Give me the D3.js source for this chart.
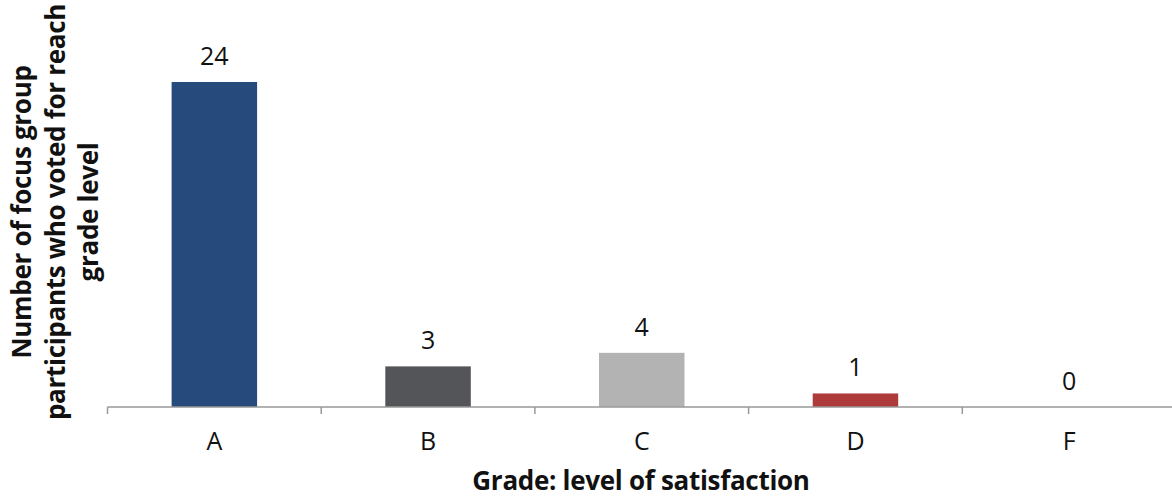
<!DOCTYPE html>
<html>
<head>
<meta charset="utf-8">
<script src="https://cdn.jsdelivr.net/npm/d3@7"></script>
<style>
    body { margin: 0; background: #fff; }
    text { font-family: "Open Sans", sans-serif; fill: #111; }
</style>
</head>
<body>
<div id="chart"></div>
<script>
// data
var grades = ["A", "B", "C", "D", "F"];
var votes = [24, 3, 4, 1, 0];
var barColors = ["#274a7d", "#545559", "#b3b3b3", "#ad3b3b", "#888888"];
var yTitleLines = ["Number of focus group", "participants who voted for reach", "grade level"];
var xTitle = "Grade: level of satisfaction";

var svgWidth = 1172;
var svgHeight = 497;

var axisLeftX = 107.5;
var step = 213.7;
var baseY = 407;

var svg = d3.select("#chart")
    .append("svg")
    .attr("width", svgWidth)
    .attr("height", svgHeight);

// outer scale gives the category boundaries (where the ticks go)
var xOuter = d3.scaleBand()
    .domain(grades)
    .range([axisLeftX, axisLeftX + step * grades.length]);

var xScale = d3.scaleBand()
    .domain(grades)
    .range([axisLeftX, axisLeftX + step * grades.length])
    .paddingInner(0.6)
    .paddingOuter(0.3);

var yScale = d3.scaleLinear()
    .domain([0, 24])
    .range([baseY, 82]);

// bars
svg.selectAll(".bar")
    .data(grades)
    .enter()
    .append("rect")
    .attr("class", "bar")
    .attr("x", d => xScale(d))
    .attr("width", xScale.bandwidth())
    .attr("y", (d, i) => yScale(votes[i]))
    .attr("height", (d, i) => baseY - yScale(votes[i]))
    .attr("fill", (d, i) => barColors[i]);

// value labels
svg.selectAll(".valueLabel")
    .data(grades)
    .enter()
    .append("text")
    .attr("class", "valueLabel")
    .attr("x", d => xScale(d) + xScale.bandwidth() / 2)
    .attr("y", (d, i) => yScale(votes[i]) - 17)
    .attr("text-anchor", "middle")
    .style("font-size", "25px")
    .text((d, i) => votes[i]);

// x axis: centred labels, ticks on the boundaries
var bottomAxis = d3.axisBottom(xScale).tickSize(0).tickPadding(25);

var xAxis = svg.append("g")
    .attr("transform", `translate(0, ${baseY})`)
    .call(bottomAxis);

xAxis.select(".domain")
    .attr("d", `M${axisLeftX},0H${svgWidth + 10}`)
    .attr("stroke", "#999")
    .attr("stroke-width", 1.5);

xAxis.selectAll(".tick text")
    .style("font-size", "25px")
    .style("font-family", "'Open Sans', sans-serif")
    .attr("fill", "#111");

xAxis.selectAll(".boundary")
    .data(grades)
    .enter()
    .append("line")
    .attr("class", "boundary")
    .attr("x1", d => xOuter(d))
    .attr("x2", d => xOuter(d))
    .attr("y1", 0)
    .attr("y2", 7)
    .attr("stroke", "#999")
    .attr("stroke-width", 1.5);

// axis titles
svg.append("text")
    .attr("x", 641)
    .attr("y", 490)
    .attr("text-anchor", "middle")
    .style("font-size", "26px")
    .style("font-weight", "bold")
    .style("letter-spacing", "-0.3px")
    .text(xTitle);

var yTitle = svg.append("g")
    .attr("transform", "translate(0, 212) rotate(-90)");

yTitle.selectAll("text")
    .data(yTitleLines)
    .enter()
    .append("text")
    .attr("x", 0)
    .attr("y", (d, i) => 31 + i * 33.5)
    .attr("text-anchor", "middle")
    .style("font-size", "26px")
    .style("font-weight", "bold")
    .style("letter-spacing", "-0.3px")
    .text(d => d);
</script>
</body>
</html>
